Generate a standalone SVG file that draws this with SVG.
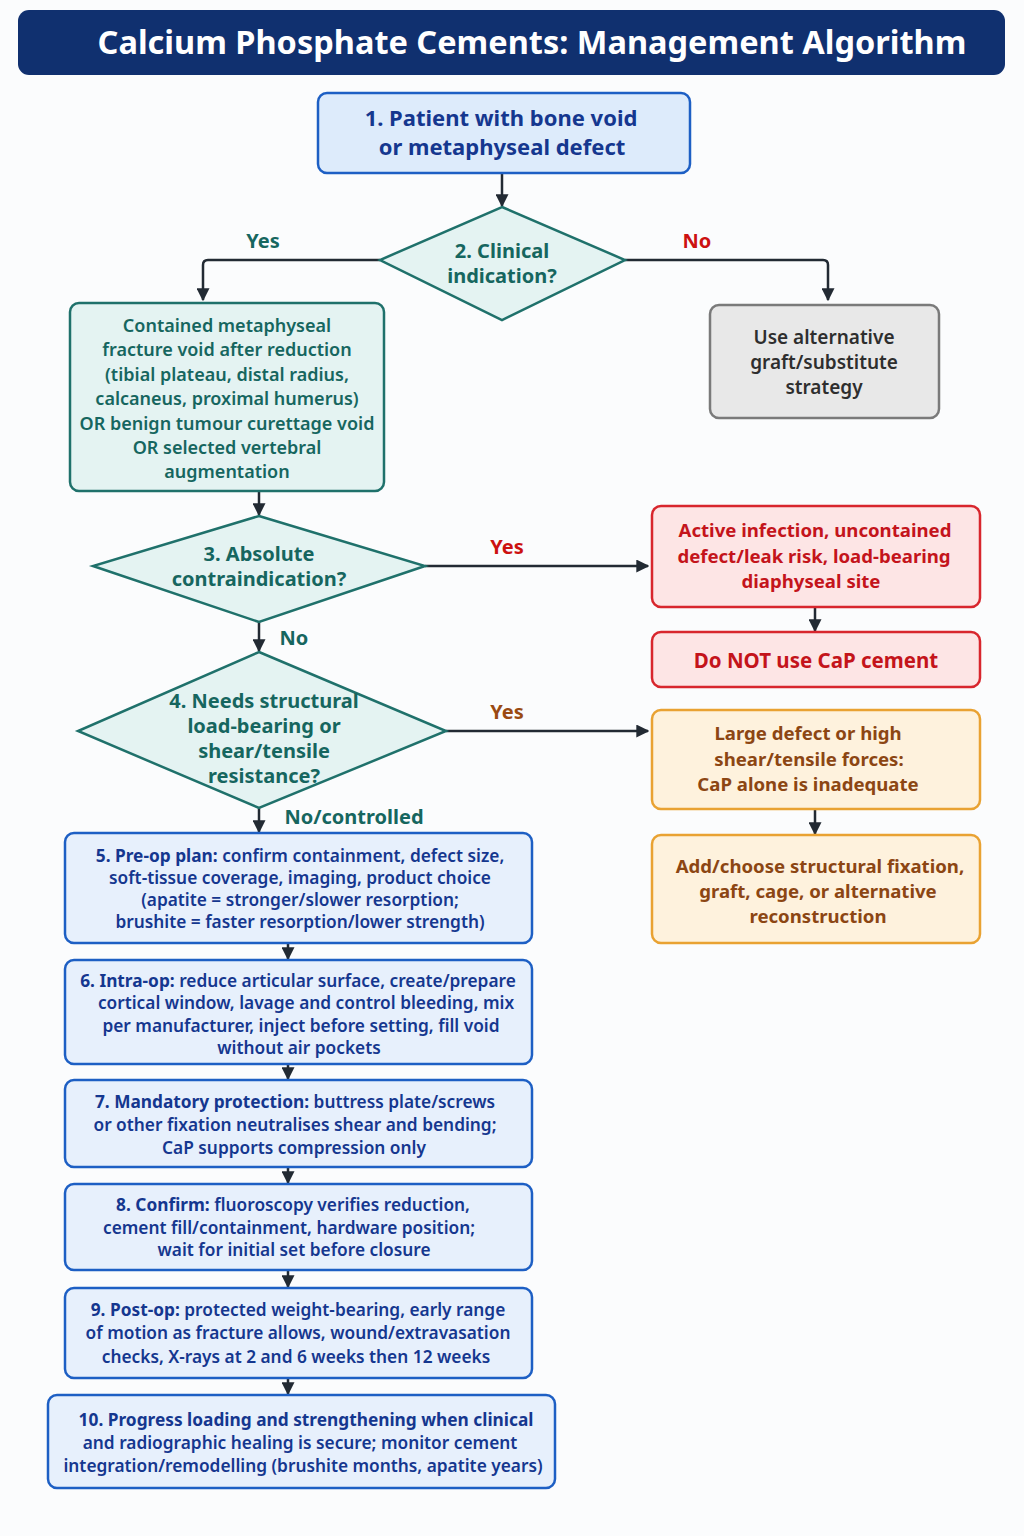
<svg xmlns="http://www.w3.org/2000/svg" width="1024" height="1536" viewBox="0 0 1024 1536">
<defs>
<marker id="ah" viewBox="0 0 10 10" refX="9" refY="5" markerWidth="13" markerHeight="13" markerUnits="userSpaceOnUse" orient="auto">
<path d="M0,0 L10,5 L0,10 z" fill="#222a33"/>
</marker>
<style>
text{font-family:"Noto Sans","Open Sans","Liberation Sans",sans-serif;text-anchor:middle}
.t{font-weight:700;font-size:32.5px;fill:#ffffff}
.blue{fill:#ddebfb;stroke:#1d5fc4;stroke-width:2.5}
.step{fill:#e7f0fc;stroke:#1d5fc4;stroke-width:2.5}
.bt{fill:#15378f;font-weight:600;font-size:17.3px}
.bt1{fill:#15378f;font-weight:700;font-size:22px}
.b{font-weight:700}
.teal{fill:#e4f3f2;stroke:#1f716b;stroke-width:2.5}
.tt{fill:#16665f;font-weight:600;font-size:18px}
.tt2{fill:#16665f;font-weight:700;font-size:20px}
.gray{fill:#e8e8e8;stroke:#7a7a7a;stroke-width:2.5}
.gt{fill:#2e2e2e;font-weight:600;font-size:19px}
.red{fill:#fde5e5;stroke:#d8262d;stroke-width:2.5}
.rt{fill:#c4141b;font-weight:700;font-size:18.6px}
.org{fill:#fef2dd;stroke:#e9a232;stroke-width:2.5}
.ot{fill:#8c4613;font-weight:700;font-size:18.6px}
.lbl{font-weight:700;font-size:20px}
.c{fill:none;stroke:#222a33;stroke-width:2.5}
</style>
</defs>
<rect width="1024" height="1536" fill="#fbfcfd"/>

<g id="title">
<rect x="18" y="10" width="987" height="65" rx="11" fill="#10306f"/>
<text class="t" x="532" y="54">Calcium Phosphate Cements: Management Algorithm</text>
</g>

<g id="connectors">
<path class="c" d="M502,173 V206" marker-end="url(#ah)"/>
<path class="c" d="M380,260 H208 Q203,260 203,265 V300" marker-end="url(#ah)"/>
<path class="c" d="M625,260 H823 Q828,260 828,265 V300" marker-end="url(#ah)"/>
<path class="c" d="M259,491 V515" marker-end="url(#ah)"/>
<path class="c" d="M425,566 H648" marker-end="url(#ah)"/>
<path class="c" d="M259,622 V651" marker-end="url(#ah)"/>
<path class="c" d="M815,607 V631" marker-end="url(#ah)"/>
<path class="c" d="M446,731 H648" marker-end="url(#ah)"/>
<path class="c" d="M815,809 V834" marker-end="url(#ah)"/>
<path class="c" d="M259,808 V832" marker-end="url(#ah)"/>
<path class="c" d="M288,943 V959" marker-end="url(#ah)"/>
<path class="c" d="M288,1064 V1079" marker-end="url(#ah)"/>
<path class="c" d="M288,1167 V1183" marker-end="url(#ah)"/>
<path class="c" d="M288,1270 V1287" marker-end="url(#ah)"/>
<path class="c" d="M288,1378 V1394" marker-end="url(#ah)"/>
<text class="lbl" x="263" y="248" fill="#16665f">Yes</text>
<text class="lbl" x="697" y="248" fill="#cc1111">No</text>
<text class="lbl" x="507" y="554" fill="#cc1111">Yes</text>
<text class="lbl" x="294" y="645" fill="#16665f">No</text>
<text class="lbl" x="507" y="719" fill="#9a4a12">Yes</text>
<text class="lbl" x="354" y="824" fill="#16665f">No/controlled</text>
</g>

<g id="n1">
<rect class="blue" x="318" y="93" width="372" height="80" rx="9"/>
<text class="bt1" x="501" y="126">1. Patient with bone void</text>
<text class="bt1" x="502" y="155">or metaphyseal defect</text>
</g>

<g id="n2">
<polygon class="teal" points="502,207 625,260 502,320 380,260"/>
<text class="tt2" x="502" y="258">2. Clinical</text>
<text class="tt2" x="502" y="283">indication?</text>
</g>

<g id="n2yes">
<rect class="teal" x="70" y="303" width="314" height="188" rx="9"/>
<text class="tt" x="227" y="332">Contained metaphyseal</text>
<text class="tt" x="227" y="356">fracture void after reduction</text>
<text class="tt" x="227" y="381">(tibial plateau, distal radius,</text>
<text class="tt" x="227" y="405">calcaneus, proximal humerus)</text>
<text class="tt" x="227" y="430">OR benign tumour curettage void</text>
<text class="tt" x="227" y="454">OR selected vertebral</text>
<text class="tt" x="227" y="478">augmentation</text>
</g>

<g id="n2no">
<rect class="gray" x="710" y="305" width="229" height="113" rx="9"/>
<text class="gt" x="824" y="344">Use alternative</text>
<text class="gt" x="824" y="369">graft/substitute</text>
<text class="gt" x="824" y="394">strategy</text>
</g>

<g id="n3">
<polygon class="teal" points="259,516 425,566 259,622 93,566"/>
<text class="tt2" x="259" y="561">3. Absolute</text>
<text class="tt2" x="259" y="586">contraindication?</text>
</g>

<g id="n3yes">
<rect class="red" x="652" y="506" width="328" height="101" rx="9"/>
<text class="rt" x="815" y="537">Active infection, uncontained</text>
<text class="rt" x="814" y="563">defect/leak risk, load-bearing</text>
<text class="rt" x="811" y="588">diaphyseal site</text>
</g>

<g id="nNot">
<rect class="red" x="652" y="632" width="328" height="55" rx="9"/>
<text class="rt" x="816" y="668" style="font-size:20.5px">Do NOT use CaP cement</text>
</g>

<g id="n4">
<polygon class="teal" points="259,652 446,731 259,808 78,731"/>
<text class="tt2" x="264" y="708">4. Needs structural</text>
<text class="tt2" x="264" y="733">load-bearing or</text>
<text class="tt2" x="264" y="758">shear/tensile</text>
<text class="tt2" x="264" y="783">resistance?</text>
</g>

<g id="n4yes">
<rect class="org" x="652" y="710" width="328" height="99" rx="9"/>
<text class="ot" x="808" y="740">Large defect or high</text>
<text class="ot" x="809" y="766">shear/tensile forces:</text>
<text class="ot" x="808" y="791">CaP alone is inadequate</text>
</g>

<g id="nFix">
<rect class="org" x="652" y="835" width="328" height="108" rx="9"/>
<text class="ot" x="820" y="873">Add/choose structural fixation,</text>
<text class="ot" x="818" y="898">graft, cage, or alternative</text>
<text class="ot" x="818" y="923">reconstruction</text>
</g>

<g id="n5">
<rect class="step" x="65" y="833" width="467" height="110" rx="9"/>
<text class="bt" x="300" y="862"><tspan class="b">5. Pre-op plan:</tspan> confirm containment, defect size,</text>
<text class="bt" x="300" y="884">soft-tissue coverage, imaging, product choice</text>
<text class="bt" x="300" y="906">(apatite = stronger/slower resorption;</text>
<text class="bt" x="300" y="928">brushite = faster resorption/lower strength)</text>
</g>

<g id="n6">
<rect class="step" x="65" y="960" width="467" height="104" rx="9"/>
<text class="bt" x="298" y="987"><tspan class="b">6. Intra-op:</tspan> reduce articular surface, create/prepare</text>
<text class="bt" x="306" y="1009">cortical window, lavage and control bleeding, mix</text>
<text class="bt" x="301" y="1032">per manufacturer, inject before setting, fill void</text>
<text class="bt" x="299" y="1054">without air pockets</text>
</g>

<g id="n7">
<rect class="step" x="65" y="1080" width="467" height="87" rx="9"/>
<text class="bt" x="295" y="1108"><tspan class="b">7. Mandatory protection:</tspan> buttress plate/screws</text>
<text class="bt" x="295" y="1131">or other fixation neutralises shear and bending;</text>
<text class="bt" x="294" y="1154">CaP supports compression only</text>
</g>

<g id="n8">
<rect class="step" x="65" y="1184" width="467" height="86" rx="9"/>
<text class="bt" x="293" y="1211"><tspan class="b">8. Confirm:</tspan> fluoroscopy verifies reduction,</text>
<text class="bt" x="289" y="1234">cement fill/containment, hardware position;</text>
<text class="bt" x="294" y="1256">wait for initial set before closure</text>
</g>

<g id="n9">
<rect class="step" x="65" y="1288" width="467" height="90" rx="9"/>
<text class="bt" x="298" y="1316"><tspan class="b">9. Post-op:</tspan> protected weight-bearing, early range</text>
<text class="bt" x="298" y="1339">of motion as fracture allows, wound/extravasation</text>
<text class="bt" x="296" y="1363">checks, X-rays at 2 and 6 weeks then 12 weeks</text>
</g>

<g id="n10">
<rect class="step" x="48" y="1395" width="507" height="93" rx="9"/>
<text class="bt b" x="306" y="1426">10. Progress loading and strengthening when clinical</text>
<text class="bt" x="300" y="1449">and radiographic healing is secure; monitor cement</text>
<text class="bt" x="303" y="1472">integration/remodelling (brushite months, apatite years)</text>
</g>
</svg>
